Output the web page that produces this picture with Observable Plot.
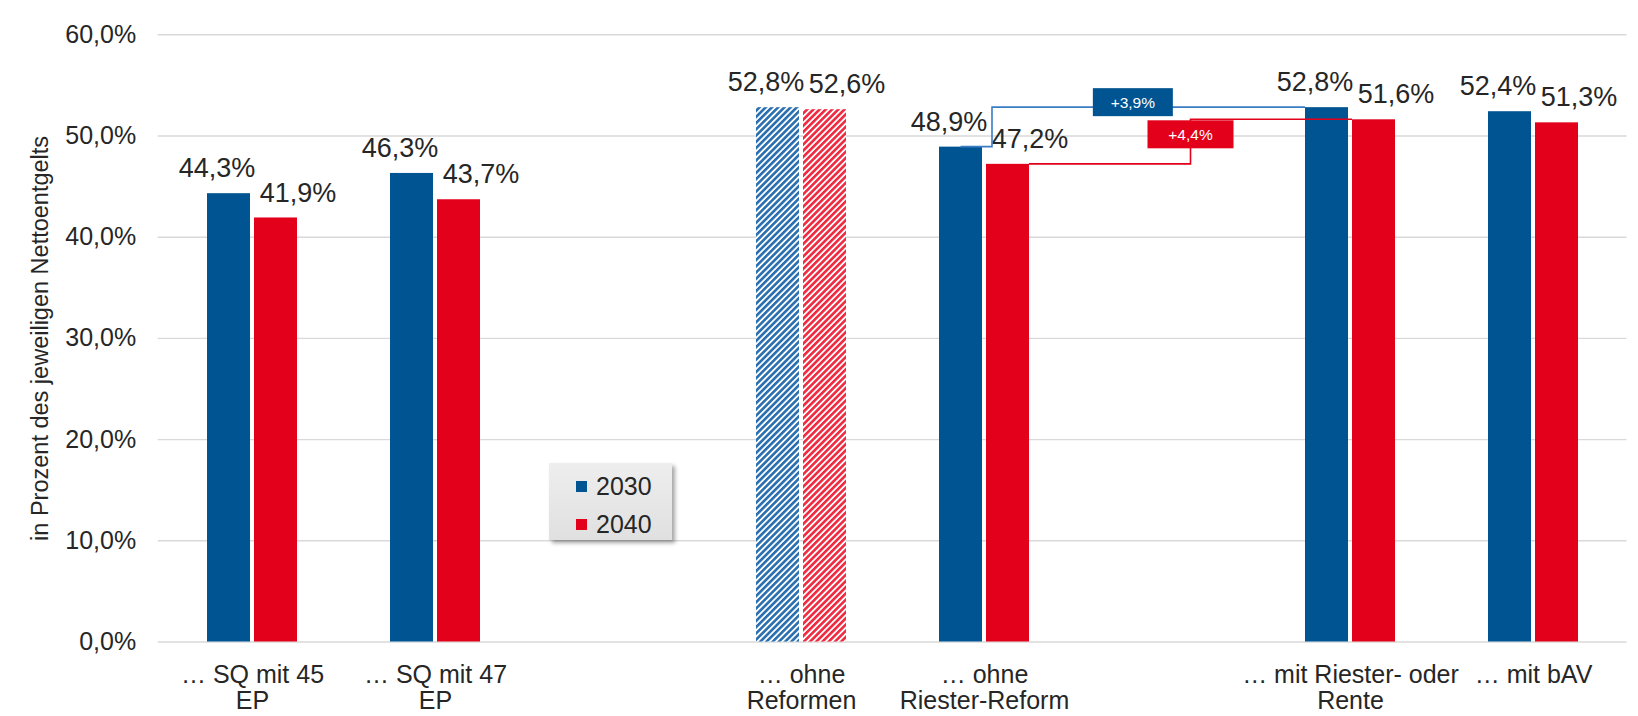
<!DOCTYPE html>
<html><head><meta charset="utf-8">
<script src="https://cdn.jsdelivr.net/npm/d3@7"></script>
<script src="https://cdn.jsdelivr.net/npm/@observablehq/plot@0.6"></script>
<style>
body{margin:0;background:#fff;font-family:"Liberation Sans",Arial,sans-serif;}
#wrap{position:relative;width:1638px;height:716px;overflow:hidden;}
#legend{position:absolute;left:549px;top:463px;width:123px;height:77px;background:linear-gradient(#eeeeee,#e0e0e0);box-shadow:3px 3px 4px rgba(0,0,0,0.35);font-size:25px;color:#262626;}
#legend .item{position:absolute;left:27px;height:30px;line-height:30px;}
#legend .sw{display:inline-block;width:11px;height:11px;margin-right:9px;vertical-align:middle;position:relative;top:-2px;}
</style></head><body><div id="wrap"></div>
<script>
// ---- data ----
const categories = ["SQ45", "SQ47", "gap1", "ohneRef", "ohneRiester", "gap2", "mitRiester", "bAV"];
const tickLabels = ["… SQ mit 45\nEP", "… SQ mit 47\nEP", "", "… ohne\nReformen", "… ohne\nRiester-Reform", "", "… mit Riester- oder\nRente", "… mit bAV"];
const values2030 = [44.3, 46.3, null, 52.8, 48.9, null, 52.8, 52.4];
const values2040 = [41.9, 43.7, null, 52.6, 47.2, null, 51.6, 51.3];
const seriesNames = ["2030", "2040"];
const seriesColors = ["#005491", "#e3001b"];
const hatchColors = ["#2a6fb0", "#f02a40"];
const hatchedCategory = "ohneRef";
const yTicks = [0, 10, 20, 30, 40, 50, 60];
const yTitle = "in Prozent des jeweiligen Nettoentgelts";
const deltaLabels = ["+3,9%", "+4,4%"];
const deltaFrom = "ohneRiester";
const deltaTo = "mitRiester";

// ---- layout ----
const W = 1638, H = 716, ML = 157.7, MR = 11.5, MT = 34.3, MB = 74.5;
const step = (W - ML - MR) / categories.length;
const bw = 90, GAP = 4;
const padIn = 1 - bw / step;
const barW = (bw - GAP) / 2;
const fmt = v => v.toFixed(1).replace(".", ",") + "%";
const FONT = '"Liberation Sans", Arial, sans-serif';

const rows = categories.map((c, i) => ({cat: c, a: values2030[i], b: values2040[i]})).filter(d => d.a != null);
const solid = rows.filter(d => d.cat !== hatchedCategory);
const hatched = rows.filter(d => d.cat === hatchedCategory);

const chart = Plot.plot({
  width: W, height: H, marginLeft: ML, marginRight: MR, marginTop: MT, marginBottom: MB,
  style: {fontFamily: FONT, fontSize: "25px", color: "#262626", background: "white"},
  x: {type: "band", domain: categories, paddingInner: padIn, paddingOuter: padIn / 2, align: 0.5},
  y: {domain: [0, 60]},
  marks: [
    Plot.ruleY(yTicks, {stroke: "#d9d9d9", strokeWidth: 1.4}),
    Plot.barY(solid, {x: "cat", y: "a", fill: seriesColors[0], insetRight: bw - barW}),
    Plot.barY(solid, {x: "cat", y: "b", fill: seriesColors[1], insetLeft: bw - barW}),
    Plot.barY(hatched, {x: "cat", y: "a", fill: "url(#hatch2030)", insetRight: bw - barW}),
    Plot.barY(hatched, {x: "cat", y: "b", fill: "url(#hatch2040)", insetLeft: bw - barW}),
    Plot.text(rows, {x: "cat", y: "a", text: d => fmt(d.a), dx: -(bw / 2 - barW / 2) - 12, dy: -25, fontSize: 27}),
    Plot.text(rows, {x: "cat", y: "b", text: d => fmt(d.b), dx: (bw / 2 - barW / 2) + 22, dy: -25, fontSize: 27}),
    Plot.axisY({ticks: yTicks, tickSize: 0, tickPadding: 22, tickFormat: fmt, label: null, fontSize: 25}),
    Plot.axisX({tickSize: 0, tickPadding: 23, tickFormat: d => tickLabels[categories.indexOf(d)], label: null, fontSize: 25, lineHeight: 1.02}),
    Plot.text([yTitle], {frameAnchor: "left", rotate: -90, dx: -118, textAnchor: "middle", fontSize: 23.5})
  ]
});

// patterns
const svg = d3.select(chart);
const defs = svg.insert("defs", ":first-child");
seriesNames.forEach((s, i) => {
  const p = defs.append("pattern").attr("id", "hatch" + s).attr("patternUnits", "userSpaceOnUse")
    .attr("width", 4.4).attr("height", 4.4).attr("patternTransform", "rotate(45)");
  p.append("rect").attr("width", 4.4).attr("height", 4.4).attr("fill", "white");
  p.append("rect").attr("width", 2.6).attr("height", 4.4).attr("fill", hatchColors[i]);
});

// delta connectors, positioned through Plot's scales
const sx = chart.scale("x"), sy = chart.scale("y");
const x0 = c => sx.apply(c);
const iFrom = categories.indexOf(deltaFrom), iTo = categories.indexOf(deltaTo);
const fromA = values2030[iFrom], toA = values2030[iTo];
const fromB = values2040[iFrom], toB = values2040[iTo];
const g = svg.append("g").attr("font-family", FONT);

// 2030 connector
const xvA = x0(deltaFrom) + bw - barW + 6;
const endA = x0(deltaTo);
g.append("path").attr("fill", "none").attr("stroke", "#3a7cc4").attr("stroke-width", 1.6)
  .attr("d", `M${x0(deltaFrom) + barW / 2},${sy.apply(fromA)}H${xvA}V${sy.apply(toA)}H${endA}`);
const bxA = xvA + 0.45 * (endA - xvA), byA = sy.apply(toA) - 5;
g.append("rect").attr("x", bxA - 40).attr("y", byA - 14).attr("width", 80).attr("height", 28).attr("fill", seriesColors[0]);
g.append("text").attr("x", bxA).attr("y", byA).attr("dy", "0.35em").attr("text-anchor", "middle")
  .attr("fill", "white").attr("font-size", 15.5).text(deltaLabels[0]);

// 2040 connector
const startB = x0(deltaFrom) + bw;
const endB = x0(deltaTo) + bw - barW;
const xvB = (startB + endB) / 2;
g.append("path").attr("fill", "none").attr("stroke", seriesColors[1]).attr("stroke-width", 1.6)
  .attr("d", `M${startB},${sy.apply(fromB)}H${xvB}V${sy.apply(toB)}H${endB}`);
const byB = sy.apply(toB) + 1;
g.append("rect").attr("x", xvB - 43).attr("y", byB).attr("width", 86).attr("height", 28).attr("fill", seriesColors[1]);
g.append("text").attr("x", xvB).attr("y", byB + 14).attr("dy", "0.35em").attr("text-anchor", "middle")
  .attr("fill", "white").attr("font-size", 15.5).text(deltaLabels[1]);

const wrap = document.getElementById("wrap");
wrap.appendChild(chart);

// legend
const leg = document.createElement("div");
leg.id = "legend";
seriesNames.forEach((s, i) => {
  const it = document.createElement("div");
  it.className = "item";
  it.style.top = (8 + i * 38) + "px";
  it.innerHTML = `<span class="sw" style="background:${seriesColors[i]}"></span>${s}`;
  leg.appendChild(it);
});
wrap.appendChild(leg);
</script></body></html>
